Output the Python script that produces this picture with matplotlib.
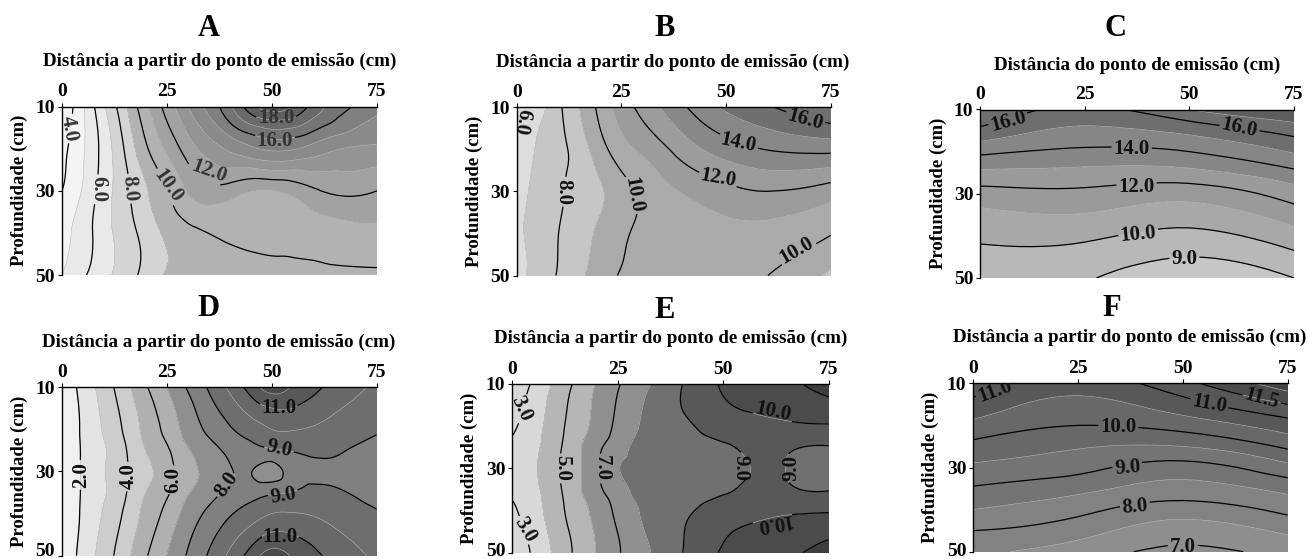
import matplotlib
matplotlib.use('Agg')
import matplotlib.pyplot as plt
import matplotlib.tri as mtri
from matplotlib.transforms import ScaledTranslation
import numpy as np

W, H = 1307, 559

xs_wide = [0, 5, 10, 15, 20, 25, 30, 40, 50, 60, 75]
ys_five = [10, 20, 30, 40, 50]
xs_fine = [0, 5, 10, 15, 20, 25, 30, 35, 40, 45, 50, 55, 60, 67, 75]
ys_mid = [10, 20, 25, 30, 35, 40, 50]
xs_four = [0, 25, 50, 75]
ys_nine = [10, 15, 20, 25, 30, 35, 40, 45, 50]

z_a = [
    [3.0, 4.9, 6.9, 8.8, 10.8, 12.4, 14.0, 16.8, 19.6, 17.6, 15.3],
    [3.7, 4.9, 6.4, 8.1, 9.85, 11.2, 12.5, 14.2, 15.2, 14.6, 13.8],
    [4.0, 5.1, 6.5, 7.7, 8.9, 9.95, 11.1, 11.5, 11.0, 11.85, 12.0],
    [4.7, 5.5, 6.6, 7.5, 8.4, 9.2, 9.7, 10.2, 10.3, 10.5, 10.8],
    [5.0, 5.85, 6.7, 7.5, 8.35, 9.1, 9.2, 9.3, 9.65, 9.75, 9.8],
]
z_b = [
    [5.8, 6.55, 7.8, 9.0, 10.3, 11.5, 12.3, 13.9, 15.2, 15.9, 17.0],
    [6.2, 7.1, 7.7, 8.5, 9.6, 10.6, 11.2, 12.5, 13.5, 14.05, 14.3],
    [6.8, 7.2, 7.8, 8.4, 8.9, 9.6, 10.2, 11.1, 11.7, 12.0, 11.5],
    [6.9, 7.3, 8.0, 8.6, 9.2, 9.8, 10.2, 10.5, 10.75, 10.7, 10.05],
    [6.8, 7.3, 8.1, 8.85, 9.4, 10.1, 10.25, 10.4, 10.3, 10.0, 8.8],
]
z_c = [
    [17.1, 15.7, 17.0, 18.0],
    [15.75, 14.8, 15.3, 16.4],
    [14.25, 13.8, 14.0, 15.1],
    [12.8, 12.7, 12.7, 13.75],
    [11.6, 11.75, 11.4, 12.5],
    [10.75, 10.95, 10.5, 11.5],
    [10.2, 10.2, 9.7, 10.6],
    [9.7, 9.6, 9.0, 9.75],
    [9.3, 9.1, 8.3, 9.0],
]
z_d = [
    [1.2, 2.35, 3.45, 4.65, 5.9, 7.0, 8.1, 9.1, 10.2, 11.4, 12.5, 11.9, 11.25, 10.5, 9.8],
    [1.2, 2.15, 3.1, 4.15, 5.3, 6.3, 7.4, 8.2, 8.9, 9.45, 10.0, 10.05, 9.9, 9.5, 9.1],
    [1.25, 2.1, 2.9, 3.9, 5.0, 5.85, 6.9, 7.6, 8.25, 8.65, 8.85, 9.05, 9.25, 9.05, 8.6],
    [1.3, 2.1, 2.95, 3.85, 4.7, 5.6, 6.6, 7.3, 7.9, 8.05, 7.6, 8.5, 8.8, 8.75, 8.3],
    [1.25, 2.1, 2.9, 3.9, 5.0, 5.85, 6.9, 7.6, 8.25, 8.65, 8.85, 9.05, 9.25, 9.05, 8.6],
    [1.2, 2.15, 3.1, 4.15, 5.3, 6.3, 7.4, 8.2, 8.9, 9.45, 10.0, 10.05, 9.9, 9.5, 9.1],
    [1.2, 2.35, 3.45, 4.65, 5.9, 7.0, 8.1, 9.1, 10.2, 11.4, 12.5, 11.9, 11.25, 10.5, 9.8],
]
z_e = [
    [2.15, 3.15, 4.15, 5.15, 6.05, 6.9, 7.6, 8.3, 8.95, 9.6, 10.1, 10.35, 10.55, 10.9, 11.35],
    [2.8, 3.6, 4.5, 5.5, 6.3, 7.25, 8.0, 8.6, 8.8, 9.15, 9.5, 9.65, 9.75, 9.85, 9.9],
    [3.25, 3.75, 4.65, 5.7, 6.75, 7.6, 8.25, 8.45, 8.55, 8.7, 8.85, 9.15, 9.3, 9.05, 8.95],
    [3.4, 3.85, 4.75, 5.75, 6.85, 7.95, 8.15, 8.25, 8.3, 8.45, 8.65, 8.9, 9.15, 8.85, 8.6],
    [3.25, 3.75, 4.65, 5.7, 6.75, 7.6, 8.25, 8.45, 8.55, 8.7, 8.85, 9.15, 9.3, 9.05, 8.95],
    [2.8, 3.6, 4.5, 5.5, 6.3, 7.25, 8.0, 8.6, 8.8, 9.15, 9.5, 9.65, 9.75, 9.85, 9.9],
    [2.15, 3.15, 4.15, 5.15, 6.05, 6.9, 7.6, 8.3, 8.95, 9.6, 10.1, 10.35, 10.55, 10.9, 11.35],
]
z_f = [
    [11.3, 10.75, 11.35, 12.3],
    [10.85, 10.35, 10.8, 11.5],
    [10.35, 10.0, 10.2, 10.75],
    [9.85, 9.55, 9.5, 10.1],
    [9.4, 9.15, 8.8, 9.35],
    [8.95, 8.65, 8.3, 8.65],
    [8.5, 8.15, 7.75, 8.15],
    [8.0, 7.7, 7.25, 7.6],
    [7.6, 7.25, 6.9, 7.15],
]

fill_a = [0, 5, 7, 9, 11, 13, 14, 15, 16, 17, 18, 19, 30]
gray_a = ['#f4f4f4', '#e9e9e9', '#d4d4d4', '#b2b2b2', '#a2a2a2', '#949494', '#8a8a8a', '#808080',
          '#747474', '#6a6a6a', '#606060', '#585858']
fill_b = [0, 7, 9, 11, 13, 15, 17, 30]
gray_b = ['#dcdcdc', '#c6c6c6', '#aaaaaa', '#9c9c9c', '#888888', '#6f6f6f', '#606060']
fill_c = [0, 9, 10, 11, 13, 15, 17, 30]
gray_c = ['#c6c6c6', '#b8b8b8', '#a8a8a8', '#9a9a9a', '#868686', '#6e6e6e', '#5e5e5e']
fill_d = [0, 2, 3, 5, 7, 8, 9, 10, 11, 12, 30]
gray_d = ['#f0f0f0', '#e3e3e3', '#cdcdcd', '#b0b0b0', '#8f8f8f', '#808080', '#6e6e6e', '#686868', '#585858', '#4a4a4a']
fill_e = [0, 4, 6, 8, 9, 10, 11, 30]
gray_e = ['#d8d8d8', '#b6b6b6', '#909090', '#707070', '#585858', '#4b4b4b', '#3e3e3e']
fill_f = [0, 7.5, 8.5, 9.5, 10.5, 11.5, 12, 30]
gray_f = ['#8e8e8e', '#828282', '#747474', '#686868', '#585858', '#4c4c4c', '#444444']

black_a = [4, 6, 8, 10, 12, 16, 18]
black_b = [6, 8, 10, 12, 14, 16]
black_c = [9, 10, 12, 14, 16]
black_d = [2, 4, 6, 8, 9, 11]
black_e = [3, 5, 7, 9, 10, 11]
black_f = [7, 8, 9, 10, 11, 11.5]

# label place on the curve and screen angle
labels_a = [(1.7, 15.2, -80), (8.6, 29.7, -90), (16.1, 29.5, -85), (25.1, 28.9, -55),
            (35, 25.5, -20), (50.7, 18.1, 0), (51, 12.8, 0)]
labels_b = [(1.3, 13.6, -100), (11.1, 30.1, -90), (27.9, 30.9, -80), (48.2, 26.8, -10),
            (52.9, 18.6, -12), (68.9, 13, -15), (66.9, 44, 30)]
labels_c = [(6.7, 12.8, 15), (62, 14.4, -12), (36.2, 19.3, 0), (37.4, 28.5, 0),
            (37.8, 39.6, 5), (48.8, 45.6, 0)]
labels_d = [(4.5, 30.8, 90), (15.8, 31.2, 90), (26.5, 32, 90), (39.3, 33.2, 55),
            (51.8, 14.8, 0), (51.8, 24.5, -12), (52.8, 35.7, 10), (52, 45.5, 0)]
labels_e = [(2.2, 15.8, -65), (11.7, 30, -90), (21.2, 30, -90), (54, 30, -90), (66.2, 30, 90),
            (61.9, 16.7, -12), (61.9, 42.8, 190), (3, 44.6, -60)]
labels_f = [(5.2, 12, 20), (56.3, 14.9, -10), (68.8, 13.6, -15), (34.6, 20.3, 0),
            (36.8, 30, 5), (38.6, 39.3, 5), (50, 48.8, 0)]

panels = [
    ('A', 'Distância a partir do ponto de emissão (cm)', xs_wide, ys_five, z_a, fill_a, gray_a, black_a, labels_a,
     (62, 106.5, 377, 275), (209, 29), (219.5, 61), 18, '#333333', 0),
    ('B', 'Distância a partir do ponto de emissão (cm)', xs_wide, ys_five, z_b, fill_b, gray_b, black_b, labels_b,
     (516.7, 107, 830.7, 275.5), (665, 29), (672.8, 62), 472.7, '#111111', 0),
    ('C', 'Distância do ponto de emissão (cm)', xs_four, ys_nine, z_c, fill_c, gray_c, black_c, labels_c,
     (980.3, 109.5, 1294, 278), (1116, 29), (1137, 65), 936.7, '#111111', 0),
    ('D', 'Distância a partir do ponto de emissão (cm)', xs_fine, ys_mid, z_d, fill_d, gray_d, black_d, labels_d,
     (62, 387.3, 376.5, 555.7), (208.5, 309), (219, 342), 18, '#111111', 6),
    ('E', 'Distância a partir do ponto de emissão (cm)', xs_fine, ys_mid, z_e, fill_e, gray_e, black_e, labels_e,
     (512.3, 384, 828.7, 552.7), (665, 311), (670.5, 338), 468, '#111111', 3),
    ('F', 'Distância a partir do ponto de emissão (cm)', xs_four, ys_nine, z_f, fill_f, gray_f, black_f, labels_f,
     (973.3, 383.3, 1287.7, 551.7), (1112, 309), (1130, 337), 929, '#111111', 2),
]

plt.rcParams['font.family'] = 'Liberation Serif'
plt.rcParams['font.weight'] = 'bold'

fig = plt.figure(figsize=(W / 100, H / 100), dpi=100)

for name, sub, xs, ys, z, fills, grays, blacks, labels, box, title_at, sub_at, ylab_x, lab_color, nudge in panels:
    left, top, right, bottom = box
    ax = fig.add_axes([left / W, 1 - bottom / H, (right - left) / W, (bottom - top) / H])
    gx, gy = np.meshgrid(xs, ys)
    tri = mtri.Triangulation(gx.ravel(), gy.ravel())
    refiner = mtri.UniformTriRefiner(tri)
    fine_tri, fine_z = refiner.refine_field(np.array(z, dtype=float).ravel(), subdiv=3)

    ax.tricontourf(fine_tri, fine_z, levels=fills, colors=grays)
    ax.tricontour(fine_tri, fine_z, levels=fills[1:-1], colors='#bdbdbd', linewidths=0.4)
    cs = ax.tricontour(fine_tri, fine_z, levels=blacks, colors='black', linewidths=0.9)
    ax.set_xlim(0, 75)
    ax.set_ylim(50, 10)
    texts = ax.clabel(cs, fmt='%.1f', fontsize=15, colors=lab_color, inline_spacing=2,
                      manual=[(a, b) for a, b, c in labels])
    for t, lab in zip(texts, labels):
        t.set_transform_rotates_text(False)
        t.set_position((lab[0], lab[1]))
        t.set_rotation(lab[2])

    ax.xaxis.tick_top()
    ax.set_xticks([0, 25, 50, 75])
    ax.set_yticks([10, 30, 50])
    ax.tick_params(length=3, width=0.8, labelsize=14)
    ax.tick_params(axis='x', pad=1.5)
    ax.tick_params(axis='y', pad=2)
    for s in ['right', 'bottom']:
        ax.spines[s].set_visible(False)
    for s in ['left', 'top']:
        ax.spines[s].set_linewidth(1.0)

    # the lowest depth label sits on the page edge, lift it so it stays whole
    low = ax.get_yticklabels()[-1]
    low.set_transform(low.get_transform() + ScaledTranslation(0, nudge / 100, fig.dpi_scale_trans))

    fig.text(title_at[0] / W, 1 - title_at[1] / H, name, fontsize=22, ha='center', va='center')
    fig.text(sub_at[0] / W, 1 - sub_at[1] / H, sub, fontsize=13.7, ha='center', va='center')
    fig.text((ylab_x + 1.5) / W, 1 - (top + bottom) / 2 / H, 'Profundidade (cm)', fontsize=13.5,
             rotation=90, ha='center', va='center')

fig.savefig('out.png', dpi=100)
